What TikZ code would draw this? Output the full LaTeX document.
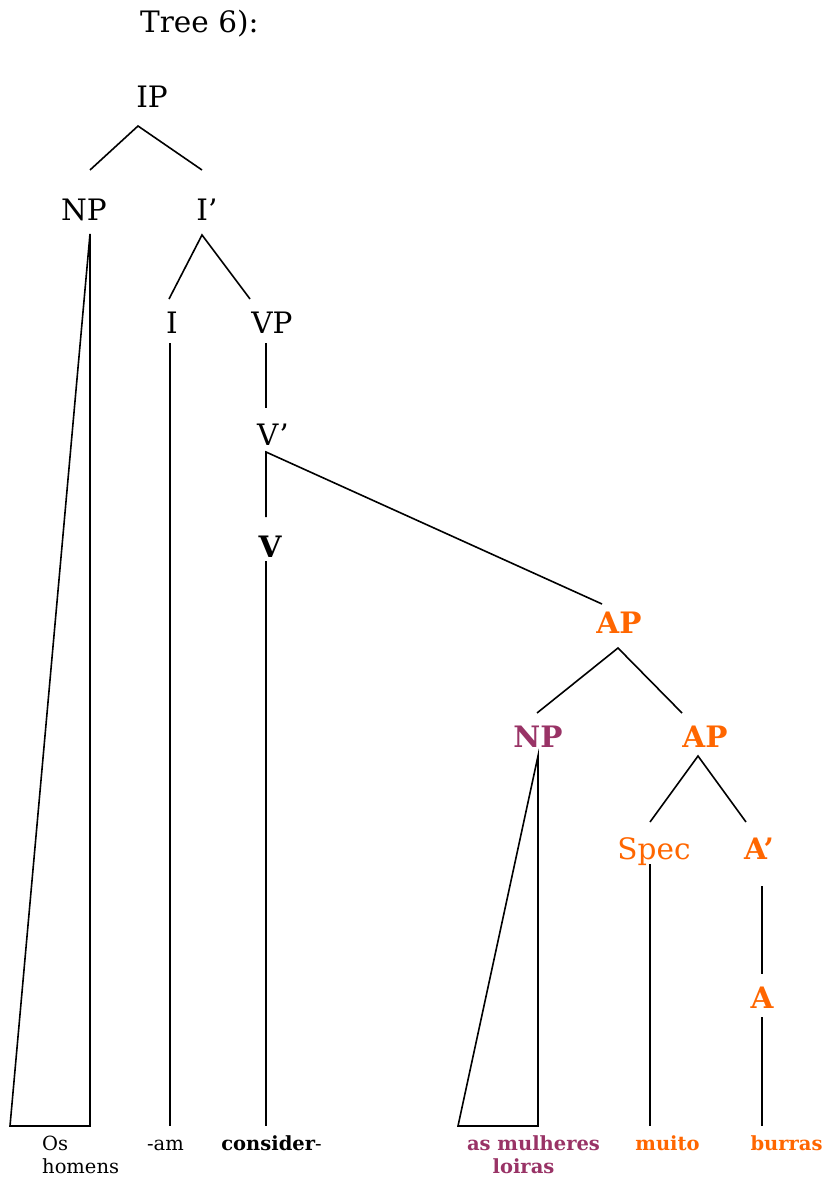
\documentclass[tikz,border=0pt]{standalone}
\usepackage{fontspec}
\setmainfont{DejaVu Serif}
\definecolor{aporange}{HTML}{FF6600}
\definecolor{nppurple}{HTML}{993366}
\begin{document}
\begin{tikzpicture}[x=1pt,y=-1pt,
  lab/.style={anchor=base,inner sep=0pt,font=\fontsize{29.5}{32}\selectfont},
  blab/.style={anchor=base,inner sep=0pt,font=\fontsize{29.5}{32}\selectfont\bfseries},
  word/.style={anchor=base,inner sep=0pt,font=\fontsize{19.5}{22}\selectfont},
  bword/.style={anchor=base,inner sep=0pt,font=\fontsize{19.5}{22}\selectfont\bfseries},
  edge/.style={line width=1.6pt,line join=miter,line cap=butt}]
\useasboundingbox (0,0) rectangle (823,1177);

% labels
\node[lab,anchor=base west] (title) at (140,33) {Tree 6):};
\node[lab] (IP) at (152,108) {IP};
\node[lab] (NPa) at (84,220) {NP};
\node[lab] (Ibar) at (207,220) {I’};
\node[lab] (I) at (172,333) {I};
\node[lab] (VP) at (272,333) {VP};
\node[lab] (Vbar) at (273,445) {V’};
\node[blab] (V) at (270,557) {V};
\node[blab,text=aporange] (APa) at (619,633) {AP};
\node[blab,text=nppurple] (NPb) at (538,747) {NP};
\node[blab,text=aporange] (APb) at (705,747) {AP};
\node[lab,text=aporange] (Spec) at (654,859) {Spec};
\node[blab,text=aporange] (Abar) at (759,859) {A’};
\node[blab,text=aporange] (A) at (762,1008) {A};

% words
\node[word,anchor=base west] (os) at (42,1150) {Os};
\node[word,anchor=base west] (homens) at (42,1173) {homens};
\node[word] (am) at (165.5,1150) {-am};
\node[word] (consider) at (271.5,1150) {\bfseries consider\mdseries-};
\node[bword,text=nppurple] (mulheres) at (533.5,1150) {as mulheres};
\node[bword,text=nppurple] (loiras) at (523.5,1173) {loiras};
\node[bword,text=aporange] (muito) at (667.5,1150) {muito};
\node[bword,text=aporange] (burras) at (786.5,1150) {burras};

% connector end points
\coordinate (IPb) at (138,126);
\coordinate (NPat) at (90,170);
\coordinate (Ibart) at (202,170);
\coordinate (NPab) at (90,234);
\coordinate (triAl) at (10,1126);
\coordinate (triAr) at (90,1126);
\coordinate (Ibarb) at (202,235);
\coordinate (It) at (169,299);
\coordinate (VPt) at (250,299);
\coordinate (Ib) at (170,343);
\coordinate (Iw) at (170,1126);
\coordinate (VPb) at (266,343);
\coordinate (Vbart) at (266,408);
\coordinate (Vbarb) at (266,452);
\coordinate (Vt) at (266,517);
\coordinate (APat) at (602,604);
\coordinate (Vb) at (266,561);
\coordinate (Vw) at (266,1126);
\coordinate (APab) at (618,648);
\coordinate (NPbt) at (537,713);
\coordinate (APbt) at (682,713);
\coordinate (NPbb) at (538,756);
\coordinate (triBl) at (458,1126);
\coordinate (triBr) at (538,1126);
\coordinate (APbb) at (698,756);
\coordinate (Spect) at (650,822);
\coordinate (Abart) at (746,822);
\coordinate (Specb) at (650,864);
\coordinate (Specw) at (650,1126);
\coordinate (Abarb) at (762,886);
\coordinate (At) at (762,974);
\coordinate (Ab) at (762,1017);
\coordinate (Aw) at (762,1126);

% connectors
\draw[edge] (NPat) -- (IPb) -- (Ibart);
\draw[edge] (NPab) -- (triAl) -- (triAr) -- cycle;
\draw[edge] (It) -- (Ibarb) -- (VPt);
\draw[edge] (Ib) -- (Iw);
\draw[edge] (VPb) -- (Vbart);
\draw[edge] (Vt) -- (Vbarb) -- (APat);
\draw[edge] (Vb) -- (Vw);
\draw[edge] (NPbt) -- (APab) -- (APbt);
\draw[edge] (NPbb) -- (triBl) -- (triBr) -- cycle;
\draw[edge] (Spect) -- (APbb) -- (Abart);
\draw[edge] (Specb) -- (Specw);
\draw[edge] (Abarb) -- (At);
\draw[edge] (Ab) -- (Aw);
\end{tikzpicture}
\end{document}
